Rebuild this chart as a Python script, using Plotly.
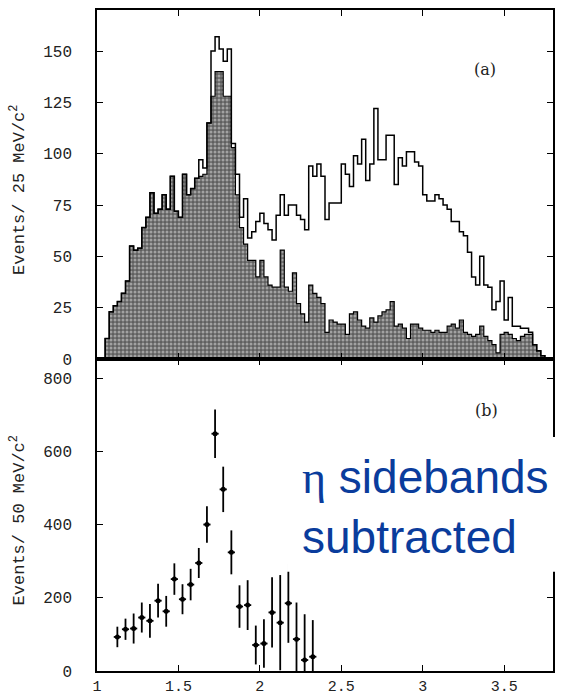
import numpy as np
import plotly.graph_objects as go

# panel (a): 25 MeV/c^2 bins, first bin starts at 1.05 GeV/c^2
bin_start = 1.05
bin_width = 0.025

all_events = [
    10, 23, 26, 28, 32, 38, 55, 53, 54, 64,
    69, 81, 71, 73, 80, 73, 89, 72, 69, 90,
    80, 83, 88, 97, 93, 115, 150, 157, 151, 145,
    151, 105, 90, 69, 78, 59, 62, 67, 71, 66,
    63, 58, 70, 80, 70, 75, 75, 70, 68, 63,
    94, 89, 95, 89, 68, 76, 76, 76, 95, 90,
    84, 99, 95, 107, 87, 95, 122, 97, 97, 109,
    109, 85, 98, 94, 101, 101, 96, 94, 80, 77,
    77, 80, 78, 75, 73, 67, 67, 62, 60, 52,
    40, 36, 50, 36, 35, 24, 28, 38, 19, 30,
    16, 16, 15, 15, 13, 7, 4, 1.6, 0,
]

shaded_events = [
    10, 23, 26, 28, 32, 38, 55, 53, 54, 64,
    69, 81, 71, 73, 80, 73, 89, 72, 69, 90,
    80, 83, 88, 89, 90, 115, 128, 140, 140, 128,
    128, 103, 80, 64, 56, 48, 48, 40, 48, 40,
    36, 35, 35, 53, 35, 33, 42, 27, 22, 18,
    36, 32, 30, 27, 13, 19, 18, 17, 17, 12,
    22, 23, 19, 16, 15, 20, 18, 21, 23, 24,
    28, 16, 17, 15, 10, 17, 17, 15, 14, 14,
    13, 14, 13, 13, 16, 17, 15, 19, 13, 12,
    11, 12, 16, 11, 9, 7, 3, 12, 13, 12,
    10, 9, 11, 12, 12, 7, 4, 1.6, 0,
]

# panel (b): 50 MeV/c^2 bins, eta sidebands subtracted
mass_b = [1.125, 1.175, 1.225, 1.275, 1.325, 1.375, 1.425, 1.475, 1.525,
          1.575, 1.625, 1.675, 1.725, 1.775, 1.825, 1.875, 1.925, 1.975,
          2.025, 2.075, 2.125, 2.175, 2.225, 2.275, 2.325]
events_b = [93, 114, 116, 146, 137, 192, 163, 251, 196, 236, 295, 400, 648,
            496, 324, 176, 180, 71, 75, 160, 132, 185, 87, 30, 39]
errors_b = [28, 29, 41, 41, 46, 46, 42, 43, 41, 43, 41, 50, 66,
            62, 60, 58, 68, 53, 66, 96, 130, 108, 100, 125, 100]

y_ticks_a = [0, 25, 50, 75, 100, 125, 150]
y_ticks_b = [0, 200, 400, 600, 800]
x_ticks = [1, 1.5, 2, 2.5, 3, 3.5]
x_tick_labels = ["1", "1.5", "2", "2.5", "3", "3.5"]


def step_outline(values):
    n = len(values)
    edges = bin_start + bin_width * np.arange(n + 1)
    xs = np.concatenate([[edges[0]], edges])
    ys = np.concatenate([[0], values, [0]])
    return xs, ys


split = 0.472  # boundary between the two panels (paper coords)

fig = go.Figure()

xs, ys = step_outline(shaded_events)
fig.add_trace(go.Scatter(
    x=xs, y=ys, mode="lines",
    line=dict(shape="hv", color="black", width=1.2),
    fill="tozeroy",
    fillpattern=dict(shape=".", bgcolor="#5f5f5f", fgcolor="#e6e6e6",
                     size=4, solidity=0.45),
    xaxis="x", yaxis="y", showlegend=False, hoverinfo="skip",
))

xs, ys = step_outline(all_events)
fig.add_trace(go.Scatter(
    x=xs, y=ys, mode="lines",
    line=dict(shape="hv", color="black", width=1.5),
    xaxis="x", yaxis="y", showlegend=False, hoverinfo="skip",
))

fig.add_trace(go.Scatter(
    x=mass_b, y=events_b, mode="markers",
    marker=dict(size=5, color="black"),
    error_y=dict(type="data", array=errors_b, thickness=1.8, width=0, color="black"),
    error_x=dict(type="constant", value=0.022, thickness=1.8, width=0, color="black"),
    xaxis="x2", yaxis="y2", showlegend=False,
))

axis_style = dict(
    showline=True, linecolor="black", linewidth=1.5, mirror="ticks",
    ticks="inside", ticklen=6, tickwidth=1.2, tickcolor="black",
    showgrid=False, zeroline=False, automargin=False,
    tickfont=dict(family="Liberation Mono", size=16, color="#222"),
)

fig.update_layout(
    width=571, height=698,
    margin=dict(l=97, r=18, t=10, b=27),
    paper_bgcolor="white", plot_bgcolor="white",
    xaxis=dict(axis_style, range=[1, 3.8], anchor="y", matches="x2",
               tickvals=x_ticks, showticklabels=False),
    yaxis=dict(axis_style, range=[0, 170], domain=[split, 1], anchor="x",
               tickvals=y_ticks_a, ticklabelstandoff=20),
    xaxis2=dict(axis_style, range=[1, 3.8], anchor="y2",
                tickvals=x_ticks, ticktext=x_tick_labels, ticklabelstandoff=0,
                tickfont=dict(family="Liberation Mono", size=15, color="#222")),
    yaxis2=dict(axis_style, range=[0, 852], domain=[0, split], anchor="x2",
                tickvals=y_ticks_b, ticklabelstandoff=20),
)

title_font = dict(family="Liberation Mono", size=17, color="#222")
fig.add_annotation(text="Events/ 25 MeV/c<sup>2</sup>", textangle=-90,
                   xref="paper", yref="paper", x=-0.173, y=0.728,
                   xanchor="center", yanchor="middle", showarrow=False,
                   font=title_font)
fig.add_annotation(text="Events/ 50 MeV/c<sup>2</sup>", textangle=-90,
                   xref="paper", yref="paper", x=-0.173, y=0.228,
                   xanchor="center", yanchor="middle", showarrow=False,
                   font=title_font)

panel_font = dict(family="DejaVu Serif", size=16, color="#222")
fig.add_annotation(text="(a)", x=3.38, y=141, xref="x", yref="y",
                   showarrow=False, font=panel_font)
fig.add_annotation(text="(b)", x=3.39, y=712, xref="x2", yref="y2",
                   showarrow=False, font=panel_font)

# white label box pasted over panel (b)
fig.add_shape(type="rect", xref="paper", yref="paper",
              x0=0.4167, x1=1.05, y0=0.15, y1=0.354,
              fillcolor="white", line=dict(width=0), layer="above")
fig.add_annotation(text="<span style='font-family:Liberation Serif'>η</span> sidebands<br>subtracted",
                   xref="paper", yref="paper", x=0.445, y=0.248,
                   xanchor="left", yanchor="middle", align="left",
                   showarrow=False,
                   font=dict(family="Liberation Sans", size=46, color="#0a3c9c"))

# drop the default 8px body margin and scrollbars so the figure sits at 0,0
fig.write_html(
    "out.html",
    config={"displayModeBar": False},
    post_script="document.body.style.margin='0';"
                "document.documentElement.style.overflow='hidden';"
                "document.body.style.overflow='hidden';",
)
